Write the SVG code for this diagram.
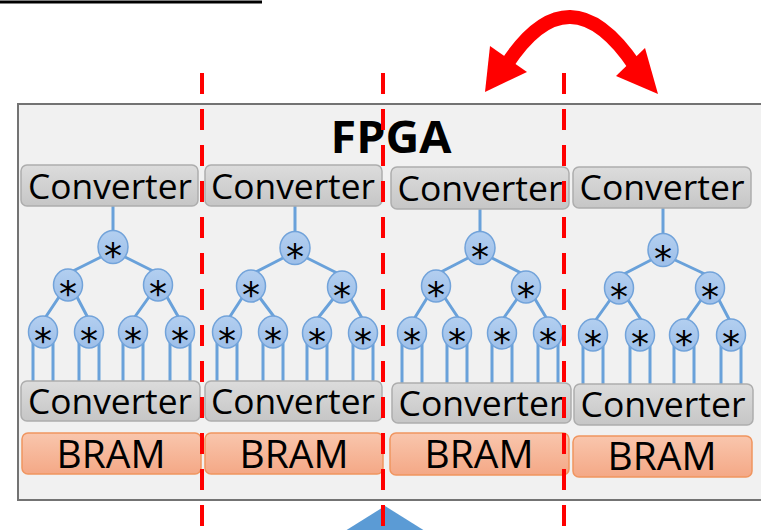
<svg xmlns="http://www.w3.org/2000/svg" width="761" height="530" viewBox="0 0 761 530">
  <defs>
    <linearGradient id="gConv" x1="0" y1="0" x2="0" y2="1">
      <stop offset="0" stop-color="#dcdcdc"/>
      <stop offset="1" stop-color="#c6c6c6"/>
    </linearGradient>
    <linearGradient id="gBram" x1="0" y1="0" x2="0" y2="1">
      <stop offset="0" stop-color="#f9c6ad"/>
      <stop offset="1" stop-color="#f4a886"/>
    </linearGradient>
    <linearGradient id="gMul" x1="0" y1="0" x2="0" y2="1">
      <stop offset="0" stop-color="#b3cff0"/>
      <stop offset="1" stop-color="#9dbfe9"/>
    </linearGradient>
  </defs>
  <style>
    .conv rect { fill: url(#gConv); stroke: #adadad; stroke-width: 1.5; }
    .conv text { font-family: "Open Sans", "Liberation Sans", sans-serif; font-size: 34px; fill: #000; text-anchor: middle; }
    .bram rect { fill: url(#gBram); stroke: #f0955f; stroke-width: 1.5; }
    .bram text { font-family: "Open Sans", "Liberation Sans", sans-serif; font-size: 39px; fill: #000; text-anchor: middle; }
    .mul ellipse { fill: url(#gMul); stroke: #72a3da; stroke-width: 1.5; }
    .mul text { font-family: "DejaVu Sans", sans-serif; font-size: 36px; fill: #000; text-anchor: middle; }
    .wire { stroke: #69a1da; stroke-width: 3; fill: none; }
    .cut { stroke: #ff0000; stroke-width: 4; stroke-dasharray: 21 15; fill: none; }
  </style>

  <!-- heading rule -->
  <path d="M0,2 H262" stroke="#000" stroke-width="3"/>

  <!-- FPGA frame -->
  <g id="fpga">
    <rect x="18" y="104" width="760" height="396" fill="#f1f1f1" stroke="#737373" stroke-width="2"/>
    <text x="391" y="153" font-family="'Open Sans', 'Liberation Sans', sans-serif" font-weight="bold" font-size="44" text-anchor="middle" textLength="121" lengthAdjust="spacingAndGlyphs">FPGA</text>
  </g>

  <!-- connectors -->
  <g id="connectors" class="wire">
    <!-- tree 1 -->
    <path d="M113,206 V232 M101,257 L71,272 M125,257 L155,272
             M59,297 L45,318 M77,297 L88,318 M149,297 L134,318 M167,297 L179,318
             M33,342 V381 M53,342 V381 M79,342 V381 M99,342 V381
             M123,342 V381 M143,342 V381 M170,342 V381 M190,342 V381"/>
    <!-- tree 2 -->
    <path d="M295,206 V233 M283,258 L254,273 M307,258 L339,274
             M242,298 L229,318 M260,298 L275,318 M333,299 L318,318 M351,299 L362,318
             M217,342 V381 M237,342 V381 M263,342 V381 M283,342 V381
             M307,342 V381 M327,342 V381 M353,342 V381 M373,342 V381"/>
    <!-- tree 3 -->
    <path d="M480,209 V233 M468,258 L439,273 M492,258 L523,274
             M427,298 L414,319 M445,298 L459,319 M517,299 L503,319 M535,299 L547,319
             M402,343 V383 M422,343 V383 M447,343 V383 M467,343 V383
             M492,343 V383 M512,343 V383 M538,343 V383 M558,343 V383"/>
    <!-- tree 4 -->
    <path d="M663,208 V235 M651,260 L622,275 M675,260 L707,275
             M610,300 L595,321 M628,300 L642,321 M701,300 L686,321 M719,300 L730,321
             M583,345 V384 M603,345 V384 M630,345 V384 M650,345 V384
             M674,345 V384 M694,345 V384 M721,345 V384 M741,345 V384"/>
  </g>

  <!-- input converters -->
  <g id="conv-in-1" class="conv"><rect x="21" y="165" width="177" height="41" rx="6"/><text x="110" y="199" textLength="164" lengthAdjust="spacingAndGlyphs">Converter</text></g>
  <g id="conv-in-2" class="conv"><rect x="205" y="165" width="177" height="41" rx="6"/><text x="293" y="199" textLength="164" lengthAdjust="spacingAndGlyphs">Converter</text></g>
  <g id="conv-in-3" class="conv"><rect x="391" y="167" width="178" height="42" rx="6"/><text x="480" y="201" textLength="165" lengthAdjust="spacingAndGlyphs">Converter</text></g>
  <g id="conv-in-4" class="conv"><rect x="573" y="167" width="178" height="41" rx="6"/><text x="662" y="200" textLength="165" lengthAdjust="spacingAndGlyphs">Converter</text></g>

  <!-- multiplier trees -->
  <g id="tree-1" class="mul">
    <ellipse cx="113" cy="247" rx="15" ry="16.5"/><text x="113" y="268">*</text>
    <ellipse cx="68" cy="285" rx="14.5" ry="16"/><text x="68" y="306">*</text>
    <ellipse cx="158" cy="285" rx="14.5" ry="16"/><text x="158" y="306">*</text>
    <ellipse cx="43" cy="332" rx="14.5" ry="16"/><text x="43" y="353">*</text>
    <ellipse cx="89" cy="332" rx="14.5" ry="16"/><text x="89" y="353">*</text>
    <ellipse cx="133" cy="332" rx="14.5" ry="16"/><text x="133" y="353">*</text>
    <ellipse cx="180" cy="332" rx="14.5" ry="16"/><text x="180" y="353">*</text>
  </g>
  <g id="tree-2" class="mul">
    <ellipse cx="295" cy="248" rx="15" ry="16.5"/><text x="295" y="269">*</text>
    <ellipse cx="251" cy="286" rx="14.5" ry="16"/><text x="251" y="307">*</text>
    <ellipse cx="342" cy="287" rx="14.5" ry="16"/><text x="342" y="308">*</text>
    <ellipse cx="227" cy="332" rx="14.5" ry="16"/><text x="227" y="353">*</text>
    <ellipse cx="273" cy="332" rx="14.5" ry="16"/><text x="273" y="353">*</text>
    <ellipse cx="317" cy="333" rx="14.5" ry="16"/><text x="317" y="354">*</text>
    <ellipse cx="363" cy="333" rx="14.5" ry="16"/><text x="363" y="354">*</text>
  </g>
  <g id="tree-3" class="mul">
    <ellipse cx="480" cy="248" rx="15" ry="16.5"/><text x="480" y="269">*</text>
    <ellipse cx="436" cy="286" rx="14.5" ry="16"/><text x="436" y="307">*</text>
    <ellipse cx="526" cy="287" rx="14.5" ry="16"/><text x="526" y="308">*</text>
    <ellipse cx="412" cy="333" rx="14.5" ry="16"/><text x="412" y="354">*</text>
    <ellipse cx="457" cy="333" rx="14.5" ry="16"/><text x="457" y="354">*</text>
    <ellipse cx="502" cy="333" rx="14.5" ry="16"/><text x="502" y="354">*</text>
    <ellipse cx="548" cy="333" rx="14.5" ry="16"/><text x="548" y="354">*</text>
  </g>
  <g id="tree-4" class="mul">
    <ellipse cx="663" cy="250" rx="15" ry="16.5"/><text x="663" y="271">*</text>
    <ellipse cx="619" cy="288" rx="14.5" ry="16"/><text x="619" y="309">*</text>
    <ellipse cx="710" cy="288" rx="14.5" ry="16"/><text x="710" y="309">*</text>
    <ellipse cx="593" cy="335" rx="14.5" ry="16"/><text x="593" y="356">*</text>
    <ellipse cx="640" cy="335" rx="14.5" ry="16"/><text x="640" y="356">*</text>
    <ellipse cx="684" cy="335" rx="14.5" ry="16"/><text x="684" y="356">*</text>
    <ellipse cx="731" cy="335" rx="14.5" ry="16"/><text x="731" y="356">*</text>
  </g>

  <!-- output converters -->
  <g id="conv-out-1" class="conv"><rect x="21" y="381" width="179" height="40" rx="6"/><text x="110" y="414" textLength="164" lengthAdjust="spacingAndGlyphs">Converter</text></g>
  <g id="conv-out-2" class="conv"><rect x="205" y="381" width="177" height="40" rx="6"/><text x="293" y="414" textLength="164" lengthAdjust="spacingAndGlyphs">Converter</text></g>
  <g id="conv-out-3" class="conv"><rect x="392" y="383" width="179" height="40" rx="6"/><text x="481" y="416" textLength="165" lengthAdjust="spacingAndGlyphs">Converter</text></g>
  <g id="conv-out-4" class="conv"><rect x="574" y="384" width="179" height="41" rx="6"/><text x="663" y="417" textLength="165" lengthAdjust="spacingAndGlyphs">Converter</text></g>

  <!-- block RAMs -->
  <g id="bram-1" class="bram"><rect x="22" y="433" width="179" height="41" rx="6"/><text x="111" y="468">BRAM</text></g>
  <g id="bram-2" class="bram"><rect x="205" y="433" width="178" height="41" rx="6"/><text x="294" y="468">BRAM</text></g>
  <g id="bram-3" class="bram"><rect x="390" y="433" width="179" height="42" rx="6"/><text x="479" y="468">BRAM</text></g>
  <g id="bram-4" class="bram"><rect x="573" y="436" width="179" height="41" rx="6"/><text x="662" y="470">BRAM</text></g>

  <!-- input pointer -->
  <polygon id="input" points="385,506 345,531 425,531" fill="#5b9bd5"/>

  <!-- partition cuts -->
  <g id="cuts" class="cut">
    <path d="M202,73 V530"/>
    <path d="M383,73 V530"/>
    <path d="M564,73 V530"/>
  </g>

  <!-- swap arrow -->
  <g id="swap" fill="#ff0000">
    <path d="M507,64 Q569.5,-31 635,66" stroke="#ff0000" stroke-width="14" fill="none"/>
    <polygon points="490,46 485,92 527,72"/>
    <polygon points="645,48 658,94 616,76"/>
  </g>
</svg>
